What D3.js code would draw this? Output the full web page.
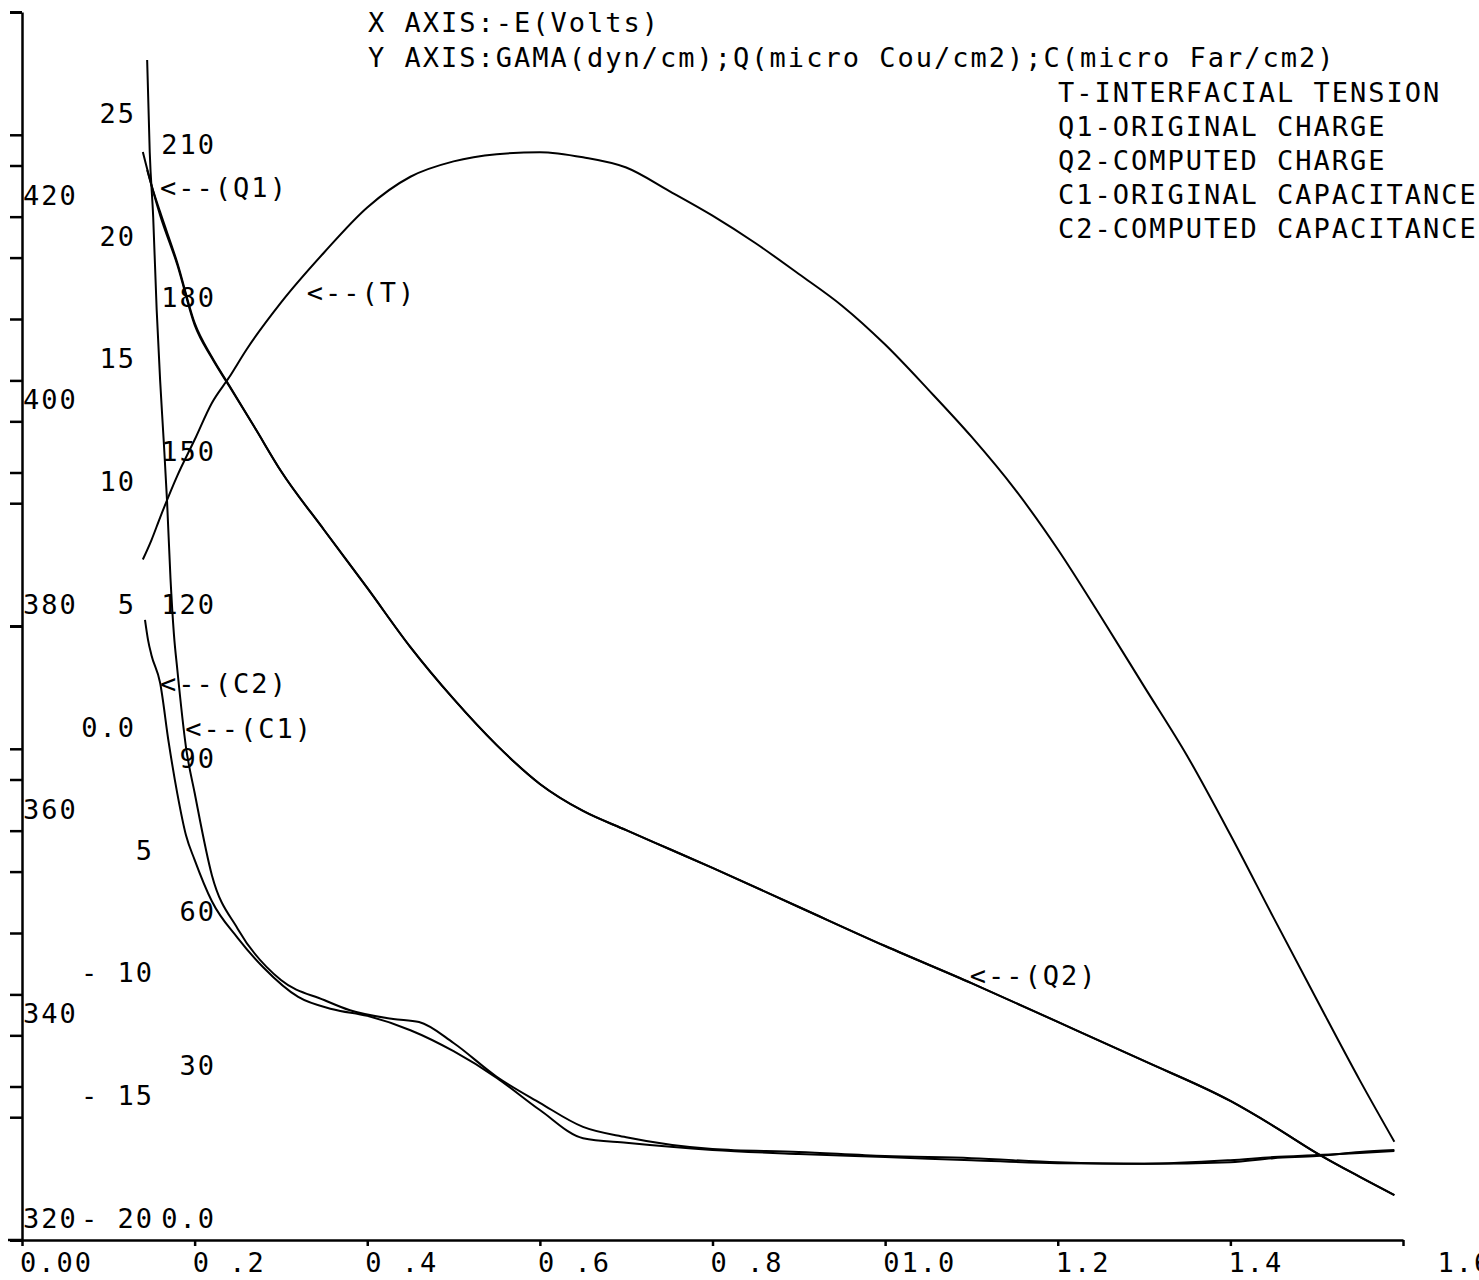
<!DOCTYPE html>
<html>
<head>
<meta charset="utf-8">
<script src="https://cdnjs.cloudflare.com/ajax/libs/d3/7.8.5/d3.min.js"></script>
<style>
  body { margin: 0; background: #fff; }
  svg text {
    font-family: "DejaVu Sans Mono", "Liberation Mono", monospace;
    font-size: 27px;
    letter-spacing: 2px;
    fill: #000;
    white-space: pre;
  }
</style>
</head>
<body>
<svg id="chart" width="1479" height="1280"></svg>
<script>
// T - interfacial tension (GAMA, dyn/cm) vs -E (Volts)
const tE    = [0.14, 0.15, 0.16, 0.18, 0.20, 0.22, 0.24, 0.26, 0.30, 0.35, 0.40, 0.45, 0.50, 0.55, 0.60, 0.65, 0.70, 0.75,
               0.80, 0.85, 0.90, 0.95, 1.00, 1.05, 1.10, 1.15, 1.20, 1.25, 1.30, 1.35, 1.40, 1.45, 1.50, 1.55, 1.59];
const tGama = [386.5, 388.4, 390.6, 394.7, 398.2, 401.8, 404.3, 407.0, 411.6, 416.5, 420.9, 423.9, 425.4, 426.1, 426.3, 425.8, 424.8, 422.5,
               420.1, 417.4, 414.4, 411.3, 407.5, 403.1, 398.5, 393.4, 387.5, 380.9, 374.1, 367.3, 359.6, 351.5, 343.5, 335.6, 329.6];

// Q1 - original charge, Q2 - computed charge (micro Cou/cm2)
const q1E   = [0.140, 0.15, 0.16, 0.18, 0.20, 0.22, 0.24, 0.27, 0.30, 0.35, 0.40, 0.45, 0.50, 0.55, 0.60, 0.65, 0.70, 0.75,
               0.80, 0.90, 1.00, 1.10, 1.20, 1.30, 1.40, 1.45, 1.50, 1.55, 1.59];
const q1Val = [24.30, 22.96, 21.86, 19.78, 17.34, 15.95, 14.80, 13.06, 11.31, 8.91, 6.55, 4.14, 2.03, 0.15, -1.43, -2.53, -3.31, -4.08,
               -4.85, -6.44, -8.03, -9.54, -11.12, -12.71, -14.34, -15.36, -16.46, -17.43, -18.17];
const q2E   = [0.145, 0.16, 0.18, 0.20, 0.22, 0.24, 0.27, 0.30, 0.35, 0.40, 0.45, 0.50, 0.55, 0.60, 0.65, 0.70, 0.75,
               0.80, 0.90, 1.00, 1.10, 1.20, 1.30, 1.40, 1.45, 1.50, 1.55, 1.59];
const q2Val = [23.57, 21.73, 19.70, 17.26, 15.91, 14.77, 13.06, 11.31, 8.91, 6.55, 4.14, 2.03, 0.15, -1.43, -2.53, -3.31, -4.08,
               -4.85, -6.44, -8.03, -9.54, -11.12, -12.71, -14.34, -15.36, -16.46, -17.43, -18.17];

// C1 - original capacitance, C2 - computed capacitance (micro Far/cm2)
const c1E   = [0.145, 0.148, 0.152, 0.156, 0.160, 0.164, 0.168, 0.172, 0.176, 0.180, 0.190, 0.20, 0.22, 0.25, 0.30, 0.35, 0.38,
               0.43, 0.46, 0.50, 0.55, 0.60, 0.65, 0.70, 0.80, 0.90, 1.00, 1.10, 1.20, 1.30, 1.40, 1.45, 1.50, 1.55, 1.59];
const c1Val = [230.6, 212.6, 199.9, 181.9, 168.1, 156.7, 144.6, 129.4, 118.4, 111.4, 96.3, 87.4, 71.3, 60.8, 50.8, 46.9, 44.9,
               43.2, 42.6, 38.5, 31.9, 26.8, 22.1, 20.1, 17.8, 17.2, 16.4, 16.0, 15.2, 14.9, 15.6, 16.2, 16.6, 17.0, 17.4];
const c2E   = [0.1425, 0.146, 0.150, 0.160, 0.170, 0.180, 0.190, 0.20, 0.22, 0.25, 0.28, 0.32, 0.36, 0.40, 0.45, 0.50, 0.55,
               0.60, 0.65, 0.70, 0.80, 0.90, 1.00, 1.10, 1.20, 1.30, 1.40, 1.45, 1.50, 1.55, 1.59];
const c2Val = [121.2, 117.3, 114.3, 108.9, 97.2, 87.2, 79.1, 74.3, 66.2, 59.0, 53.2, 47.5, 45.1, 43.8, 41.0, 36.9, 31.7,
               25.4, 19.9, 19.0, 17.6, 16.8, 16.2, 15.6, 15.0, 14.9, 15.2, 16.0, 16.4, 17.2, 17.6];

// axes
const xTicks      = [0, 0.2, 0.4, 0.6, 0.8, 1.0, 1.2, 1.4, 1.6];
const xTickLabels = ["0.00", "0 .2", "0 .4", "0 .6", "0 .8", "01.0", "1.2", "1.4", "  1.6"];
const gamaTicks   = [320, 340, 360, 380, 400, 420, 440];
const gamaLabels  = ["320", "340", "360", "380", "400", "420"];
const qTicks      = [-20, -15, -10, -5, 0, 5, 10, 15, 20, 25, 30];
const qTickLabels = ["- 20", "- 15", "- 10", "5", "0.0", "5", "10", "15", "20", "25", "30"];
const cTicks      = [0, 30, 60, 90, 120, 150, 180, 210, 240];
const cTickLabels = ["0.0", "30", "60", "90", "120", "150", "180", "210"];

const titleLines  = ["X AXIS:-E(Volts)", "Y AXIS:GAMA(dyn/cm);Q(micro Cou/cm2);C(micro Far/cm2)"];
const legendLines = ["T-INTERFACIAL TENSION", "Q1-ORIGINAL CHARGE", "Q2-COMPUTED CHARGE",
                     "C1-ORIGINAL CAPACITANCE", "C2-COMPUTED CAPACITANCE"];

// curve labels: text, -E, which y scale, value
const annoText  = ["<--(T)", "<--(Q1)", "<--(Q2)", "<--(C2)", "<--(C1)"];
const annoE     = [0.330, 0.160, 1.098, 0.160, 0.189];
const annoScale = ["G", "Q", "Q", "C", "C"];
const annoVal   = [411.7, 22.47, -9.62, 106.9, 98.1];

const svg = d3.select("#chart");
const plotTop = 12, plotBottom = 1240, plotLeft = 22, plotRight = 1403;

const x  = d3.scaleLinear().domain([0, 1.6]).range([plotLeft, plotRight]);
const yG = d3.scaleLinear().domain([320, 440]).range([plotBottom, plotTop]);
const yQ = d3.scaleLinear().domain([-20, 30]).range([plotBottom, plotTop]);
const yC = d3.scaleLinear().domain([0, 240]).range([plotBottom, plotTop]);
const scales = { G: yG, Q: yQ, C: yC };

function styleAxis(g) {
  g.selectAll("path, line").attr("stroke", "#000").attr("stroke-width", 2.5);
}

// left axis: three sets of ticks on one line
[[yG, gamaTicks], [yQ, qTicks], [yC, cTicks]].forEach(function (p, i) {
  const g = svg.append("g")
    .attr("transform", "translate(" + plotLeft + ",0)")
    .call(d3.axisLeft(p[0]).tickValues(p[1]).tickSize(12).tickSizeOuter(0).tickFormat(""));
  if (i > 0) g.select(".domain").remove();
  styleAxis(g);
});

// bottom axis
const gx = svg.append("g")
  .attr("transform", "translate(0," + plotBottom + ")")
  .call(d3.axisBottom(x).tickValues(xTicks).tickSize(6).tickSizeOuter(0).tickFormat(""));
styleAxis(gx);
svg.append("line")
  .attr("x1", 8).attr("x2", plotLeft).attr("y1", plotBottom).attr("y2", plotBottom)
  .attr("stroke", "#000").attr("stroke-width", 2.5);

// tick labels
svg.selectAll(".xl").data(xTicks).enter().append("text")
  .attr("x", d => x(d) - 2).attr("y", 1272)
  .text((d, i) => xTickLabels[i]);

svg.selectAll(".gl").data(gamaLabels).enter().append("text")
  .attr("x", 23).attr("y", (d, i) => yG(gamaTicks[i]) - 12)
  .text(d => d);

svg.selectAll(".ql").data(qTickLabels).enter().append("text")
  .attr("text-anchor", "end")
  .attr("x", (d, i) => qTicks[i] < 0 ? 154 : 136)
  .attr("y", (d, i) => yQ(qTicks[i]) - 12)
  .text(d => d);

svg.selectAll(".cl").data(cTickLabels).enter().append("text")
  .attr("text-anchor", "end")
  .attr("x", 216)
  .attr("y", (d, i) => yC(cTicks[i]) - 12)
  .text(d => d);

// curves
function zip(a, b) { return a.map((v, i) => [v, b[i]]); }
const series = [
  [zip(tE, tGama), yG],
  [zip(q1E, q1Val), yQ],
  [zip(q2E, q2Val), yQ],
  [zip(c1E, c1Val), yC],
  [zip(c2E, c2Val), yC]
];
series.forEach(function (s) {
  const line = d3.line()
    .x(d => x(d[0]))
    .y(d => s[1](d[1]))
    .curve(d3.curveMonotoneX);
  svg.append("path")
    .datum(s[0])
    .attr("fill", "none")
    .attr("stroke", "#000")
    .attr("stroke-width", 2)
    .attr("stroke-linejoin", "round")
    .attr("d", line);
});

// curve labels
annoText.forEach(function (t, i) {
  svg.append("text")
    .attr("x", x(annoE[i]))
    .attr("y", scales[annoScale[i]](annoVal[i]))
    .text(t);
});

// titles + legend
titleLines.forEach(function (t, i) {
  svg.append("text").attr("x", 368).attr("y", 32 + i * 35).text(t);
});
legendLines.forEach(function (t, i) {
  svg.append("text").attr("x", 1058).attr("y", 102 + i * 34).text(t);
});
</script>
</body>
</html>
